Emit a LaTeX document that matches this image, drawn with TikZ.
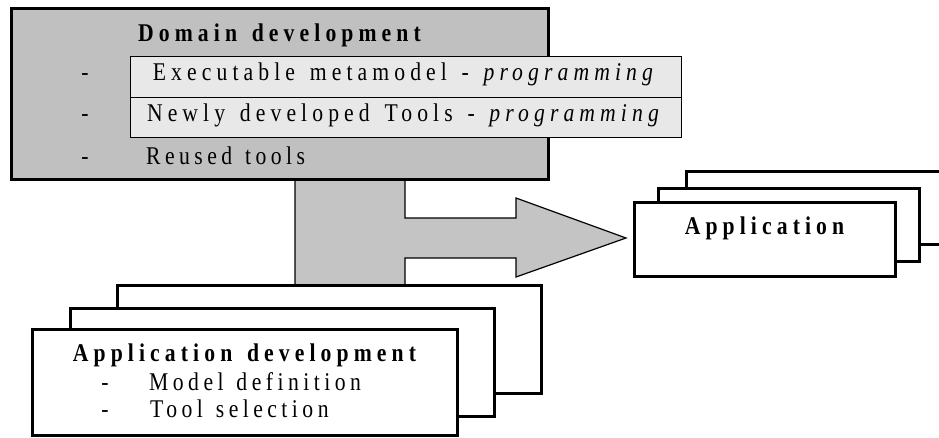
\documentclass[tikz,border=0pt]{standalone}
\usepackage{fontspec}
\setmainfont{Liberation Serif}
\newfontfamily\spaced[LetterSpace=20,FakeStretch=0.85,WordSpace=1.4]{Liberation Serif}
\newfontfamily\spacedlist[LetterSpace=17.5,FakeStretch=0.85,WordSpace=1.3]{Liberation Serif}
\definecolor{domgray}{RGB}{192,192,192}
\definecolor{rowgray}{RGB}{232,232,232}
\definecolor{arrowgray}{RGB}{196,196,196}
\begin{document}
\begin{tikzpicture}[x=1pt,y=-1pt,
  frame/.style={draw=black, line width=3pt, fill=white, inner sep=0pt, outer sep=0pt, anchor=north west},
  rowbox/.style={draw=black, line width=0.8pt, fill=rowgray, inner sep=0pt, outer sep=0pt, anchor=north west},
  lbl/.style={font=\spaced\fontsize{25.5}{28}\selectfont, inner sep=0pt, anchor=base},
  itemlbl/.style={font=\spacedlist\fontsize{25.5}{28}\selectfont, inner sep=0pt, anchor=base west},
  boldlbl/.style={font=\spaced\bfseries\fontsize{25.5}{28}\selectfont, inner sep=0pt, anchor=base},
  blockarrow/.style={draw=black, line width=1.2pt, fill=arrowgray, line join=miter}]
\useasboundingbox (0,0) rectangle (939,437);
\clip (0,0) rectangle (939,437);

% block arrow from the domain box down and over to the application stack
\coordinate (s1) at (295,179);
\coordinate (s2) at (405,179);
\coordinate (tip) at (626,238);
\draw[blockarrow] (s1) -- (s2) -- (405,218) -- (516,218) -- (516,198) -- (tip)
  -- (516,277) -- (516,258) -- (405,258) -- (405,285) -- (295,285) -- cycle;

% domain development box
\node[frame, fill=domgray, minimum width=537pt, minimum height=171pt] (dom) at (11,8) {};
\node[boldlbl] (domt) at (279.5,41.5) {Domain development};
\node[rowbox, minimum width=551pt, minimum height=41pt] (row1) at (130,56) {};
\node[rowbox, minimum width=551pt, minimum height=40pt] (row2) at (130,97) {};
\node[lbl] (row1t) at (405.5,80.5) {Executable metamodel\ - \textit{programming}};
\node[lbl] (row2t) at (405.5,121) {Newly developed Tools\ - \textit{programming}};
\node[lbl] (d1) at (85,80.5) {-};
\node[lbl] (d2) at (85,121) {-};
\node[lbl] (d3) at (85,164) {-};
\node[itemlbl] (reuse) at (146,164) {Reused tools};

% stack of application boxes
\node[frame, minimum width=290pt, minimum height=73pt] (app3) at (686,171) {};
\node[frame, minimum width=261pt, minimum height=73pt] (app2) at (658,188) {};
\node[frame, minimum width=261pt, minimum height=74pt] (app1) at (634,202) {};
\node[boldlbl] (appt) at (764.5,234) {Application};

% stack of application development boxes
\node[frame, minimum width=424pt, minimum height=108pt] (ad3) at (117,285) {};
\node[frame, minimum width=424pt, minimum height=108pt] (ad2) at (70,308) {};
\node[frame, minimum width=425pt, minimum height=106pt] (ad1) at (32,329) {};
\node[boldlbl] (adt) at (244.5,361.5) {Application development};
\node[lbl] (d4) at (105,390) {-};
\node[lbl] (d5) at (105,417) {-};
\node[itemlbl] (model) at (149,390) {Model definition};
\node[itemlbl] (tool) at (150,417) {Tool selection};
\end{tikzpicture}
\end{document}
